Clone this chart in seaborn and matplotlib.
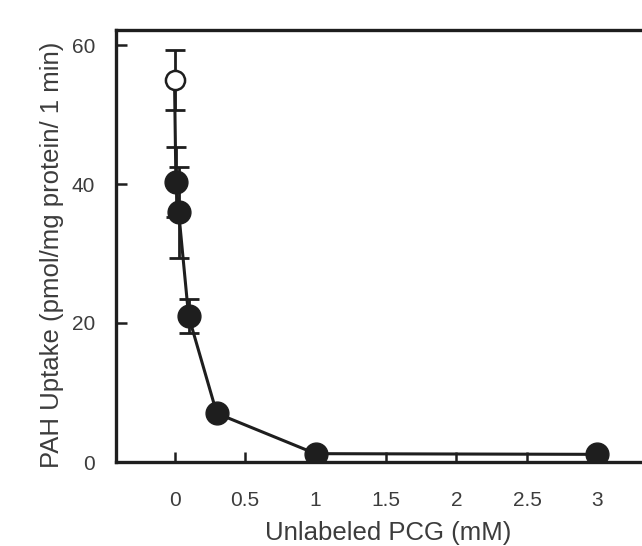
import matplotlib
matplotlib.use("Agg")
import matplotlib.pyplot as plt
import seaborn as sns
import pandas as pd

# data
conc = [0, 0.01, 0.03, 0.1, 0.3, 1, 3]
uptake = [55.0, 40.3, 35.9, 21.0, 7.0, 1.2, 1.1]
err = [4.3, 5.0, 6.6, 2.4, 0.0, 0.0, 0.0]
control = [True, False, False, False, False, False, False]
xticks = [0, 0.5, 1, 1.5, 2, 2.5, 3]
xticklabels = ["0", "0.5", "1", "1.5", "2", "2.5", "3"]
yticks = [0, 20, 40, 60]

df = pd.DataFrame({"conc": conc, "uptake": uptake, "err": err, "control": control})

sns.set_theme(style="white")
plt.rcParams["font.family"] = ["Liberation Sans", "DejaVu Sans"]

ink = "#1e1e1e"
txt = "#3c3c3c"

fig = plt.figure(figsize=(6.42, 5.46), dpi=100)
W, H = 642, 546
left, right, top, bottom = 116, 660, 30, 462
ax = fig.add_axes([left / W, 1 - bottom / H, (right - left) / W, (bottom - top) / H])

x0px, xscale = 174.5, 141.0
ax.set_xlim((left - x0px) / xscale, (right - x0px) / xscale)
ax.set_ylim(0, (bottom - top) / 139.0 * 20)

sns.lineplot(data=df, x="conc", y="uptake", ax=ax, color=ink, lw=2.2, sort=False, zorder=2)
ax.errorbar(df["conc"], df["uptake"], yerr=df["err"], fmt="none", ecolor=ink,
            elinewidth=2.0, capsize=7.5, capthick=2.0, zorder=2)
filled = df[~df["control"]]
opened = df[df["control"]]
sns.scatterplot(data=filled, x="conc", y="uptake", ax=ax, s=270, color=ink,
                edgecolor=ink, linewidth=1, zorder=3, legend=False)
sns.scatterplot(data=opened, x="conc", y="uptake", ax=ax, s=190, color="white",
                edgecolor=ink, linewidth=1.8, zorder=3, legend=False)

for s in ["left", "top", "bottom"]:
    ax.spines[s].set_visible(True)
    ax.spines[s].set_color(ink)
    ax.spines[s].set_linewidth(2.4)
ax.spines["right"].set_visible(False)

ax.set_xticks(xticks)
ax.set_xticklabels(xticklabels)
ax.set_yticks(yticks)
ax.tick_params(axis="x", direction="in", length=7, width=1.8, color=ink,
               labelsize=15, labelcolor=txt, pad=21, bottom=True)
ax.tick_params(axis="y", direction="in", length=8, width=1.8, color=ink,
               labelsize=15, labelcolor=txt, pad=15, left=True)

ax.set_xlabel("Unlabeled PCG (mM)", fontsize=18.5, color=txt, labelpad=8)
ax.set_ylabel("PAH Uptake (pmol/mg protein/ 1 min)", fontsize=18.5, color=txt, labelpad=6)
ax.yaxis.set_label_coords(-0.095, 0.48)

fig.savefig("out.png", dpi=100)
